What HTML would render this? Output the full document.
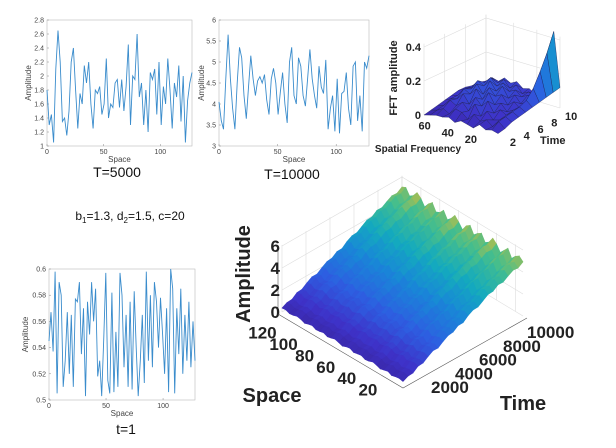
<!DOCTYPE html>
<html><head><meta charset="utf-8">
<style>
body{margin:0;background:#fff;}
svg{display:block;font-family:"Liberation Sans",Arial,sans-serif;}
.tk{font-size:7px;fill:#444;}
.lbl{font-size:8px;fill:#444;}
</style></head>
<body>
<svg id="fig" width="616" height="448" viewBox="0 0 616 448">
<g id="p1"></g>
<g id="p2"></g>
<g id="p3"></g>
<g id="fft"></g>
<g id="surf"></g>
<text x="117" y="177" font-size="14" text-anchor="middle" fill="#111">T=5000</text>
<text x="292" y="179" font-size="14" text-anchor="middle" fill="#111">T=10000</text>
<text x="126" y="434" font-size="14" text-anchor="middle" fill="#111">t=1</text>
<text x="130" y="220" font-size="12" text-anchor="middle" fill="#111">b<tspan font-size="8" dy="3">1</tspan><tspan dy="-3">=1.3, d</tspan><tspan font-size="8" dy="3">2</tspan><tspan dy="-3">=1.5, c=20</tspan></text>
</svg>
<script>
const NS="http://www.w3.org/2000/svg";
const series5000=[1.8,1.3,1.45,1.05,2.1,2.65,2.2,1.35,1.4,1.15,1.5,2.2,2.4,1.8,1.25,1.75,1.6,2.15,1.9,2.2,1.6,1.25,1.8,1.75,1.85,1.45,1.6,2.25,1.4,1.6,1.55,1.9,1.95,1.55,1.95,1.5,1.85,2.45,1.3,2.0,1.95,2.6,1.7,1.9,1.3,1.8,1.2,2.05,1.95,2.1,1.45,2.2,1.3,1.85,1.6,2.25,1.8,1.25,1.9,1.7,2.15,1.35,2.0,1.05,1.65,1.9,2.05];
const series10000=[4.05,3.6,3.4,4.6,5.65,4.6,3.9,3.4,4.5,5.35,5.1,4.2,3.65,4.4,5.15,4.6,4.2,4.55,4.65,4.5,4.7,4.1,3.75,4.6,4.85,4.5,3.75,4.3,4.75,4.0,3.55,5.0,5.35,4.2,4.0,5.1,4.9,4.2,3.95,4.6,5.3,4.6,4.2,3.9,4.9,4.4,4.25,5.05,3.4,3.9,4.2,3.35,4.6,3.3,4.25,4.3,4.75,3.9,3.5,4.9,5.0,3.6,4.2,3.35,5.0,4.85,5.15];
const series1=[0.545,0.567,0.537,0.598,0.505,0.59,0.58,0.51,0.53,0.567,0.52,0.565,0.51,0.577,0.575,0.59,0.535,0.57,0.503,0.575,0.55,0.59,0.56,0.585,0.518,0.53,0.503,0.548,0.597,0.515,0.505,0.582,0.506,0.552,0.51,0.597,0.58,0.525,0.565,0.51,0.575,0.508,0.583,0.54,0.503,0.53,0.565,0.513,0.598,0.53,0.58,0.525,0.59,0.575,0.54,0.578,0.55,0.52,0.57,0.506,0.6,0.585,0.505,0.57,0.535,0.585,0.52,0.565,0.53,0.575,0.525,0.56,0.53];
const yTicks5000=["1","1.2","1.4","1.6","1.8","2","2.2","2.4","2.6","2.8"];
const yTicks10000=["3","3.5","4","4.5","5","5.5","6"];
const yTicks1=["0.5","0.52","0.54","0.56","0.58","0.6"];
const xTicks=[0,50,100];
const timeMean=[0.3,0.45,0.6,0.8,1.0,1.2,1.4,1.6,1.8,2.0,2.2,2.4,2.6,2.8,3.0,3.2,3.4,3.6,3.8,4.0,4.15,4.3,4.45,4.6,4.75];
const spaceWave=[0.1,0.5,0.2,-0.3,0.6,0.1,-0.4,0.3,0.7,0.0,-0.3,0.5,0.2,-0.2,0.6,0.3,-0.4,0.2,0.7,0.1,-0.3,0.5,0.0,-0.2,0.6,0.2,-0.4,0.3,0.7,0.1,-0.2,0.5,0.3];
const timeNoise=[0,0.15,-0.1,0.2,-0.15,0.1,0.25,-0.2,0.05,0.2,-0.1,0.15,-0.25,0.1,0.2,-0.15,0.05,0.25,-0.1,0.15,-0.2,0.1,0.3,-0.1,0.2];
const zTicks=["0","2","4","6"];
const spaceTicks=["20","40","60","80","100","120"];
const timeTicks=["2000","4000","6000","8000","10000"];
const fftVals=[
[0.02,0.03,0.02,0.04,0.01,0.02,0.03,0.01,0.03,0.02,0.02,0.01,0.0],
[0.03,0.06,0.02,0.05,0.03,0.06,0.02,0.05,0.06,0.02,0.04,0.02,0.01],
[0.05,0.07,0.04,0.03,0.07,0.03,0.09,0.04,0.08,0.05,0.07,0.03,0.02],
[0.06,0.08,0.05,0.07,0.04,0.1,0.06,0.1,0.05,0.1,0.06,0.05,0.03],
[0.07,0.09,0.06,0.04,0.08,0.06,0.12,0.07,0.12,0.08,0.1,0.05,0.04],
[0.08,0.11,0.05,0.08,0.05,0.1,0.08,0.12,0.07,0.12,0.08,0.07,0.05],
[0.09,0.16,0.07,0.05,0.09,0.06,0.12,0.08,0.13,0.09,0.11,0.06,0.05],
[0.1,0.24,0.08,0.08,0.06,0.09,0.07,0.11,0.08,0.12,0.08,0.07,0.04],
[0.11,0.33,0.1,0.05,0.07,0.05,0.09,0.06,0.1,0.07,0.09,0.05,0.04],
[0.12,0.44,0.14,0.06,0.04,0.06,0.05,0.08,0.06,0.08,0.05,0.06,0.03]];
const fftZTicks=["0","0.2","0.4"];
const fftFreqTicks=["20","40","60"];
const fftTimeTicks=["2","4","6","8","10"];

function el(tag,attrs,parent,txt){const e=document.createElementNS(NS,tag);for(const k in attrs)e.setAttribute(k,attrs[k]);if(txt!==undefined)e.textContent=txt;parent.appendChild(e);return e;}

function linePlot(g,data,yt,box,ylab){
  const [L,R,T,B]=box;const y0=+yt[0],y1=+yt[yt.length-1];
  const sx=v=>L+(v/128)*(R-L), sy=v=>B-(v-y0)/(y1-y0)*(B-T);
  const fr=el('rect',{x:L,y:T,width:R-L,height:B-T,fill:'none',stroke:'#bbb','stroke-width':0.6},g);
  
  yt.forEach(t=>{const y=sy(+t);el('line',{x1:L,x2:L+2,y1:y,y2:y,stroke:'#888','stroke-width':0.5},g);
    const tx=el('text',{x:L-3,y:y+2.5,'text-anchor':'end',class:'tk'},g,t);});
  xTicks.forEach(t=>{const x=sx(t);el('line',{x1:x,x2:x,y1:B,y2:B-2,stroke:'#888','stroke-width':0.5},g);
    const tx=el('text',{x:x,y:B+8,'text-anchor':'middle',class:'tk'},g,t);});
  const pts=data.map((v,i)=>sx(i*128/(data.length-1)).toFixed(1)+','+sy(v).toFixed(1)).join(' ');
  const pl=el('polyline',{points:pts,fill:'none',stroke:'#3a8ccc','stroke-width':0.9},g);
  
  const xl=el('text',{x:(L+R)/2,y:B+16,'text-anchor':'middle',class:'lbl'},g,'Space');
  const yl=el('text',{x:ylab,y:(T+B)/2,'text-anchor':'middle',class:'lbl',transform:`rotate(-90 ${ylab} ${(T+B)/2})`},g,'Amplitude');
}
linePlot(document.getElementById('p1'),series5000,yTicks5000,[47,192,20,146],31);
linePlot(document.getElementById('p2'),series10000,yTicks10000,[219,369,20,146],204);
linePlot(document.getElementById('p3'),series1,yTicks1,[49,195,269,400],28);

const parula=[[0,[55,35,150]],[0.12,[62,50,200]],[0.28,[45,95,225]],[0.45,[25,135,215]],[0.6,[20,170,190]],[0.74,[70,190,140]],[0.86,[190,190,70]],[1,[250,205,45]]];
function col(t){t=Math.max(0,Math.min(1,t));for(let i=1;i<parula.length;i++){if(t<=parula[i][0]){const[a,ca]=parula[i-1],[b,cb]=parula[i];const f=(t-a)/(b-a);return 'rgb('+ca.map((c,k)=>Math.round(c+(cb[k]-c)*f)).join(',')+')';}}return 'rgb(250,205,45)';}

// Large surface
(function(){
  const g=document.getElementById('surf');
  const O=[403,385],S=[282-403,312-385],Tm=[523-403,316-385],ZK=11;
  const P=(s,t,z)=>[O[0]+s/128*S[0]+t/10000*Tm[0],O[1]+s/128*S[1]+t/10000*Tm[1]-z*ZK];
  const ps=a=>a.map(p=>p[0].toFixed(1)+','+p[1].toFixed(1)).join(' ');
  for(let k=0;k<=5;k++){const t=k*2000;const a=P(128,t,0),b=P(128,t,6.1);el('line',{x1:a[0],y1:a[1],x2:b[0],y2:b[1],stroke:'#ddd','stroke-width':0.6},g);}
  for(let k=0;k<=6;k++){const s=k*20+8;const a=P(s,10000,0),b=P(s,10000,6.1);el('line',{x1:a[0],y1:a[1],x2:b[0],y2:b[1],stroke:'#ddd','stroke-width':0.6},g);}
  zTicks.forEach(z=>{const a=P(128,0,+z),b=P(128,10000,+z),c=P(0,10000,+z);el('polyline',{points:ps([a,b,c]),fill:'none',stroke:'#ddd','stroke-width':0.6},g);});
  const ns=spaceWave.length-1,nt=timeMean.length-1;
  const Z=(i,j)=>timeMean[j]+spaceWave[i]*(0.2+0.6*j/nt)+timeNoise[j]*0.5;
  const cells=[];
  for(let i=0;i<ns;i++)for(let j=0;j<nt;j++)cells.push([i,j]);
  cells.sort((a,b)=>(b[0]/ns+b[1]/nt)-(a[0]/ns+a[1]/nt));
  cells.forEach(([i,j])=>{
    const s0=128*i/ns,s1=128*(i+1)/ns,t0=10000*j/nt,t1=10000*(j+1)/nt;
    const zs=[Z(i,j),Z(i+1,j),Z(i+1,j+1),Z(i,j+1)];
    const pts=[P(s0,t0,zs[0]),P(s1,t0,zs[1]),P(s1,t1,zs[2]),P(s0,t1,zs[3])];
    const c=col((zs[0]+zs[1]+zs[2]+zs[3])/4/6.2);
    const poly=el('polygon',{points:ps(pts),fill:c,stroke:c,'stroke-width':0.6},g);
    
    
  });
  const a0=P(128,0,0),a6=P(128,0,6);el('line',{x1:a0[0]-4,y1:a0[1],x2:a6[0]-4,y2:a6[1],stroke:'#555','stroke-width':0.6},g);
  zTicks.forEach(z=>{const p=P(128,0,+z);const t=el('text',{x:p[0]-2,y:p[1]+6,'text-anchor':'end','font-size':17,'font-weight':'bold',fill:'#222'},g,z);});
  const e1=P(128,0,0),e2=P(0,0,0),e3=P(0,10000,0);
  el('polyline',{points:ps([[e1[0]-4,e1[1]+2],[e2[0],e2[1]+3],[e3[0]+4,e3[1]+2]]),fill:'none',stroke:'#555','stroke-width':0.6},g);
  spaceTicks.forEach(s=>{const p=P(+s,0,0);const t=el('text',{x:p[0]-14-(+s)/128*14,y:p[1]+22,'text-anchor':'middle','font-size':17,'font-weight':'bold',fill:'#222'},g,s);});
  timeTicks.forEach(s=>{const p=P(0,+s,0);const t=el('text',{x:p[0]+4,y:p[1]+22,'text-anchor':'start','font-size':17,'font-weight':'bold',fill:'#222'},g,s);});
  const sl=el('text',{x:272,y:402,'text-anchor':'middle','font-size':20,'font-weight':'bold',fill:'#222'},g,'Space');
  const tl=el('text',{x:523,y:410,'text-anchor':'middle','font-size':20,'font-weight':'bold',fill:'#222'},g,'Time');
  const al=el('text',{x:250,y:274,'text-anchor':'middle','font-size':20,'font-weight':'bold',fill:'#222',transform:'rotate(-90 250 274)'},g,'Amplitude');
})();

// FFT surface
(function(){
  const g=document.getElementById('fft');
  const O=[498,137],F=[-74/64,-22/64],Tv=[62/9,-29/9],ZK=170;
  const P=(f,t,z)=>[O[0]+f*F[0]+(t-1)*Tv[0],O[1]+f*F[1]+(t-1)*Tv[1]-z*ZK];
  const ps=a=>a.map(p=>p[0].toFixed(1)+','+p[1].toFixed(1)).join(' ');
  [0,0.2,0.4].forEach(z=>{el('polyline',{points:ps([P(64,1,z),P(64,10,z),P(0,10,z)]),fill:'none',stroke:'#ddd','stroke-width':0.6},g);});
  [1,4,7,10].forEach(t=>{const a=P(64,t,0),b=P(64,t,0.42);el('line',{x1:a[0],y1:a[1],x2:b[0],y2:b[1],stroke:'#ddd','stroke-width':0.6},g);});
  [0,20,40,64].forEach(f=>{const a=P(f,10,0),b=P(f,10,0.42);el('line',{x1:a[0],y1:a[1],x2:b[0],y2:b[1],stroke:'#ddd','stroke-width':0.6},g);});
  const nf=fftVals[0].length-1,nt=fftVals.length-1;
  const cells=[];for(let j=0;j<nt;j++)for(let i=0;i<nf;i++)cells.push([i,j]);
  cells.sort((a,b)=>(b[0]/nf+b[1]/nt)-(a[0]/nf+a[1]/nt));
  cells.forEach(([i,j])=>{
    const f0=64*i/nf,f1=64*(i+1)/nf,t0=1+j,t1=2+j;
    const zs=[fftVals[j][i],fftVals[j][i+1],fftVals[j+1][i+1],fftVals[j+1][i]];
    const pts=[P(f0,t0,zs[0]),P(f1,t0,zs[1]),P(f1,t1,zs[2]),P(f0,t1,zs[3])];
    const c=col(0.04+(zs[0]+zs[1]+zs[2]+zs[3])/4/0.45*0.8);
    const poly=el('polygon',{points:ps(pts),fill:c,stroke:'#1d1d50','stroke-width':0.35},g);
    
    
  });
  fftZTicks.forEach(z=>{const p=P(64,1,+z);const t=el('text',{x:p[0]-3,y:p[1]+4,'text-anchor':'end','font-size':11,'font-weight':'bold',fill:'#222'},g,z);});
  fftFreqTicks.forEach(f=>{const p=P(+f,1,0);const t=el('text',{x:p[0]-4,y:p[1]+13,'text-anchor':'middle','font-size':11,'font-weight':'bold',fill:'#222'},g,f);});
  fftTimeTicks.forEach(s=>{const p=P(0,+s,0);const t=el('text',{x:p[0]+5,y:p[1]+12,'text-anchor':'start','font-size':11,'font-weight':'bold',fill:'#222'},g,s);});
  const fl=el('text',{x:418,y:152,'text-anchor':'middle','font-size':10,'font-weight':'bold',fill:'#222'},g,'Spatial Frequency');
  const tl=el('text',{x:540,y:144,'text-anchor':'start','font-size':11,'font-weight':'bold',fill:'#222'},g,'Time');
  const al=el('text',{x:397,y:78,'text-anchor':'middle','font-size':11,'font-weight':'bold',fill:'#222',transform:'rotate(-90 397 78)'},g,'FFT amplitude');
})();
</script>
</body></html>
